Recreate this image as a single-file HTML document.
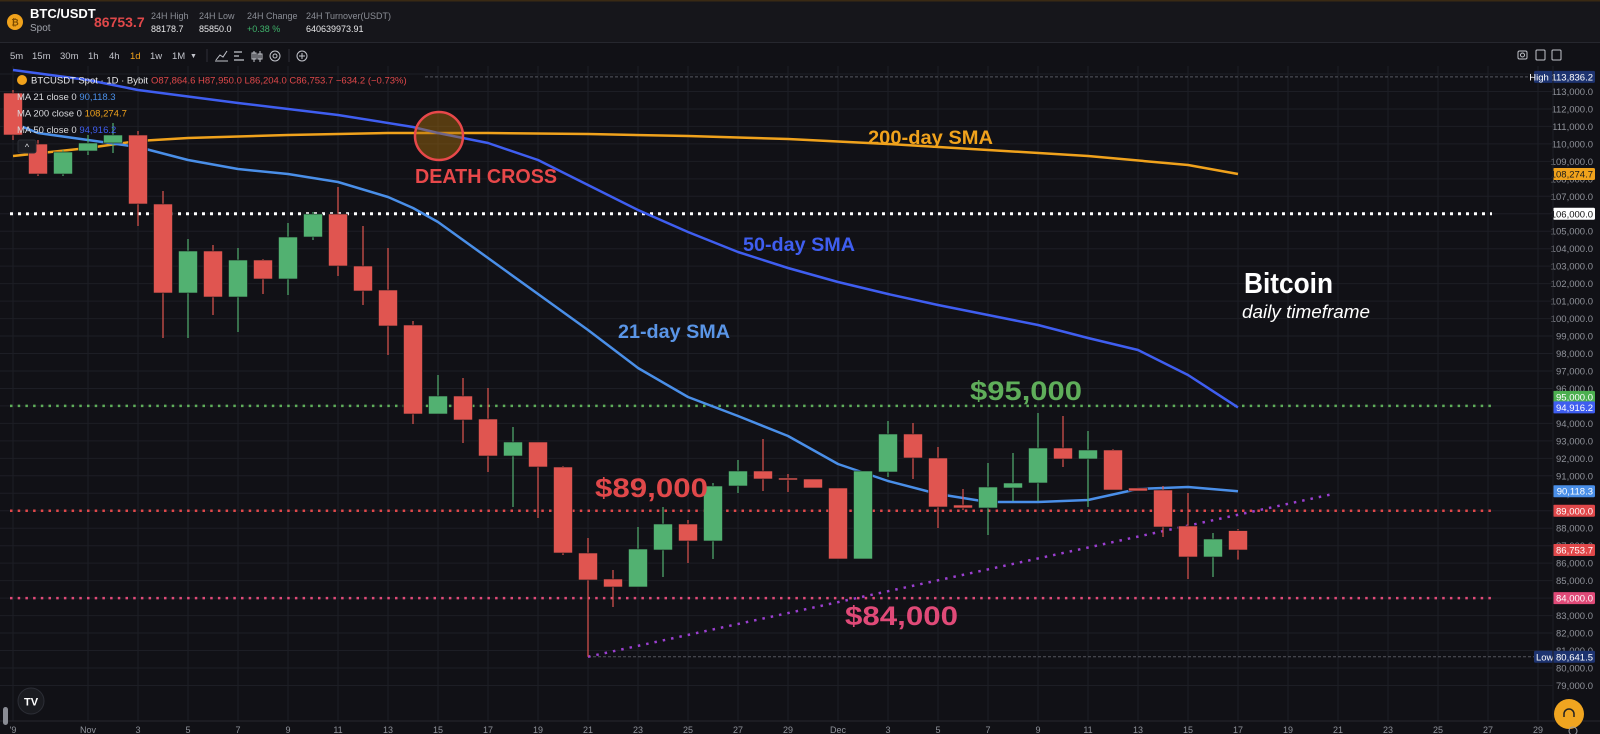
<!DOCTYPE html>
<html><head><meta charset="utf-8">
<style>
html,body{margin:0;padding:0;background:#111116;}
body{width:1600px;height:734px;overflow:hidden;font-family:"Liberation Sans",sans-serif;}
svg{display:block}
</style></head>
<body>
<svg id="chart" width="1600" height="734" viewBox="0 0 1600 734" xmlns="http://www.w3.org/2000/svg" font-family="Liberation Sans, sans-serif">
  <rect x="0" y="0" width="1600" height="734" fill="#111116"/>
  <rect x="0" y="0" width="1600" height="42" fill="#16161b"/>
  <rect x="0" y="0" width="1600" height="1.5" fill="#3a2a14"/>
  <line x1="0" y1="42.5" x2="1600" y2="42.5" stroke="#26272e"/>
  <g id="grid"></g>
  <g id="hlines"></g>
  <g id="mas"></g>
  <g id="candles"></g>
  <g id="axis"></g>
  <g id="xaxis"></g>

  <!-- header -->
  <g>
    <circle cx="15" cy="22" r="8" fill="#f0a21c"/>
    <text x="15" y="25.5" font-size="9" font-weight="bold" fill="#7a4a00" text-anchor="middle">₿</text>
    <text x="30" y="18" font-size="13" font-weight="bold" fill="#ffffff">BTC/USDT</text>
    <text x="30" y="31" font-size="10" fill="#a0a3ab">Spot</text>
    <text x="94" y="27" font-size="14" font-weight="bold" fill="#e0484a">86753.7</text>
    <text x="151" y="19" font-size="9" fill="#8b8e96">24H High</text>
    <text x="151" y="32" font-size="9" fill="#e8e8ea">88178.7</text>
    <text x="199" y="19" font-size="9" fill="#8b8e96">24H Low</text>
    <text x="199" y="32" font-size="9" fill="#e8e8ea">85850.0</text>
    <text x="247" y="19" font-size="9" fill="#8b8e96">24H Change</text>
    <text x="247" y="32" font-size="9" fill="#3fb36b">+0.38 %</text>
    <text x="306" y="19" font-size="9" fill="#8b8e96">24H Turnover(USDT)</text>
    <text x="306" y="32" font-size="9" fill="#e8e8ea">640639973.91</text>
  </g>
  <g font-size="9.5" fill="#c3c5cc">
    <text x="10" y="59">5m</text>
    <text x="32" y="59">15m</text>
    <text x="60" y="59">30m</text>
    <text x="88" y="59">1h</text>
    <text x="109" y="59">4h</text>
    <text x="130" y="59" fill="#f0a21c">1d</text>
    <text x="150" y="59">1w</text>
    <text x="172" y="59">1M</text>
    <text x="190" y="58" font-size="7">▼</text>
    <line x1="207" y1="49" x2="207" y2="62" stroke="#2e3038"/>
    <path d="M216 60 L220 55 L223 57 L227 51 M215 61 H228" stroke="#c3c5cc" fill="none" stroke-width="1"/>
    <path d="M234 52 H242 M234 56 H239 M234 60 H244" stroke="#c3c5cc" stroke-width="1.2"/>
    <path d="M254 51 V62 M260 51 V62 M252 53 h4 v6 h-4z M258 54 h4 v5 h-4z" stroke="#c3c5cc" fill="none" stroke-width="1"/>
    <circle cx="275" cy="56" r="5" stroke="#c3c5cc" fill="none"/>
    <circle cx="275" cy="56" r="2" stroke="#c3c5cc" fill="none"/>
    <line x1="289" y1="49" x2="289" y2="62" stroke="#2e3038"/>
    <circle cx="302" cy="56" r="5" stroke="#c3c5cc" fill="none"/>
    <path d="M299 56 H305 M302 53 V59" stroke="#c3c5cc"/>
    <rect x="1518" y="51" width="9" height="8" rx="1.5" stroke="#c3c5cc" fill="none"/>
    <circle cx="1522.5" cy="55" r="2" stroke="#c3c5cc" fill="none"/>
    <rect x="1536" y="50" width="9" height="10" rx="1" stroke="#c3c5cc" fill="none"/>
    <rect x="1552" y="50" width="9" height="10" rx="1" stroke="#c3c5cc" fill="none"/>
  </g>

  <!-- legend -->
  <g font-size="9.5">
    <circle cx="22" cy="80" r="5" fill="#f0a21c"/>
    <text x="31" y="83.5" fill="#e8e8ea">BTCUSDT Spot · 1D · Bybit</text>
    <text x="151" y="83.5" fill="#e0484a">O87,864.6 H87,950.0 L86,204.0 C86,753.7 −634.2 (−0.73%)</text>
    <text x="17" y="100" fill="#d8d9dd">MA 21 close 0 <tspan fill="#4a8fe8">90,118.3</tspan></text>
    <text x="17" y="116.5" fill="#d8d9dd">MA 200 close 0 <tspan fill="#f0a21c">108,274.7</tspan></text>
    <text x="17" y="133" fill="#d8d9dd">MA 50 close 0 <tspan fill="#3f5ef0">94,916.2</tspan></text>
    <rect x="18" y="140" width="18" height="13" rx="2" fill="#1c1d23" stroke="#2c2e36"/>
    <text x="27" y="150" font-size="9" fill="#d8d9dd" text-anchor="middle">^</text>
  </g>

  <g id="annot">
    <circle cx="439" cy="136" r="24" fill="rgba(170,110,10,0.45)" stroke="#e8484a" stroke-width="2.5"/>
    <text x="415" y="183" font-size="20" font-weight="bold" fill="#e8484a" textLength="142" lengthAdjust="spacingAndGlyphs">DEATH CROSS</text>
    <text x="868" y="144" font-size="19" font-weight="bold" fill="#f0a21c" textLength="125" lengthAdjust="spacingAndGlyphs">200-day SMA</text>
    <text x="743" y="251" font-size="19" font-weight="bold" fill="#3f5ef0" textLength="112" lengthAdjust="spacingAndGlyphs">50-day SMA</text>
    <text x="618" y="338" font-size="19" font-weight="bold" fill="#5a95e6" textLength="112" lengthAdjust="spacingAndGlyphs">21-day SMA</text>
    <text x="1244" y="293" font-size="29" font-weight="bold" fill="#ffffff" textLength="89" lengthAdjust="spacingAndGlyphs">Bitcoin</text>
    <text x="1242" y="318" font-size="18" font-style="italic" fill="#ffffff" textLength="128" lengthAdjust="spacingAndGlyphs">daily timeframe</text>
    <text x="970" y="400" font-size="27" font-weight="bold" fill="#5fae5a" textLength="112" lengthAdjust="spacingAndGlyphs">$95,000</text>
    <text x="595" y="497" font-size="27" font-weight="bold" fill="#e0484a" textLength="113" lengthAdjust="spacingAndGlyphs">$89,000</text>
    <text x="845" y="625" font-size="27" font-weight="bold" fill="#e04a78" textLength="113" lengthAdjust="spacingAndGlyphs">$84,000</text>
  </g>

  <g>
    <circle cx="31" cy="701" r="13" fill="#1a1b20" stroke="#2c2e36"/>
    <text x="31" y="705.5" font-size="11" font-weight="bold" fill="#ffffff" text-anchor="middle">TV</text>
    <rect x="3" y="707" width="5" height="18" rx="2.5" fill="#8a8c94"/>
    <circle cx="1569" cy="714" r="15" fill="#f0a520"/>
    <path d="M1564 717 v-3 a5 5 0 0 1 10 0 v3" stroke="#222" stroke-width="1.5" fill="none"/>
    <circle cx="1573" cy="731" r="4" stroke="#9a9ca4" fill="none"/>
  </g>
</svg>
<script>
// ---- data ----
const dayIdx = [-3,-2,-1,0,1,2,3,4,5,6,7,8,9,10,11,12,13,14,15,16,17,18,19,20,21,22,23,24,25,26,27,28,29,30,31,32,33,34,35,36,37,38,39,40,41,42,43,44,45,46];
const opens  = [112912,109993,108276,109593,110050,110508,106559,101464,103869,101235,103353,102266,104670,105986,103010,101636,99633,94538,95569,94252,92134,92936,91505,86582,85094,84636,86754,88242,87269,90417,91276,90875,90818,90303,86239,91218,93394,92020,89330,89158,90303,90589,92592,91963,92478,90303,90188,88128,86353,87864.8];
const highs  = [113084,110222,109650,110508,111195,110737,107303,104555,104212,104040,103411,105471,106101,107532,105300,104040,99862,96771,96599,96027,93794,92936,91562,87441,85609,88070,89215,88471,90589,91905,93107,91104,90818,90303,91276,94138,94023,92649,90245,91734,92306,94596,94424,93565,92535,90303,90417,90016,87727,87950];
const lows   = [110222,108162,108162,109364,109478,105300,98889,98889,100205,99232,101407,101350,104498,102438,100778,97916,93966,94538,92878,91218,89215,88585,86468,80641.5,83491,84636,85208,86010,86239,90016,90131,90074,90303,86239,86239,90932,90818,88013,89043,87612,89559,89559,91505,89215,90188,90131,87498,85094,85208,86204];
const closes = [110508,108276,109535,110050,110508,106559,101464,103869,101235,103353,102266,104670,105986,103010,101579,99576,94538,95569,94195,92134,92936,91505,86582,85037,84636,86811,88242,87269,90417,91276,90818,90761,90303,86239,91276,93394,92020,89215,89158,90360,90589,92592,91963,92478,90188,90131,88070,86353,87383,86753.7];

const ma200Days = [-3,0,2,4,8,12,16,20,24,28,32,36,40,44,46];
const ma200Vals = [109306,109764,110165,110337,110508,110623,110623,110566,110451,110279,109993,109650,109306,108791,108274.7];
const ma50Days = [-3,0,2,6,10,13,14,16,18,20,22,24,26,28,30,32,34,36,38,40,42,44,46];
const ma50Vals = [114229,113657,113084,112340,111653,110966,110623,110050,109077,107646,106215,104956,103811,102895,102094,101407,100778,100205,99633,98889,98202,96771,94916.2];
const ma21Days = [-3,-2,0,2,4,6,8,10,12,13,14,16,18,20,22,24,26,28,30,32,34,36,38,40,42,44,46];
const ma21Vals = [111195,110623,110222,109821,109077,108562,108276,107818,106959,106330,105528,103468,101407,99347,97171,95511,94424,93279,91676,90703,89959,89501,89501,89616,90245,90360,90118.3];

const levelVals = [106000,95000,89000,84000];
const trendDays = [20,49.8];
const trendVals = [80641.5,89959];

const priceTicks = [114000,113000,112000,111000,110000,109000,108000,107000,106000,105000,104000,103000,102000,101000,100000,99000,98000,97000,96000,95000,94000,93000,92000,91000,90000,89000,88000,87000,86000,85000,84000,83000,82000,81000,80000,79000];
const dateLabels = ["'9","Nov","3","5","7","9","11","13","15","17","19","21","23","25","27","29","Dec","3","5","7","9","11","13","15","17","19","21","23","25","27","29"];
const dateLabelDays = [-3,0,2,4,6,8,10,12,14,16,18,20,22,24,26,28,30,32,34,36,38,40,42,44,46,48,50,52,54,56,58];
const tagVals = [113836.2,108274.7,106000,95000,94916.2,90118.3,89000,86753.7,84000,80641.5];
const tagText = ["High  113,836.2","108,274.7","106,000.0","95,000.0","94,916.2","90,118.3","89,000.0","86,753.7","84,000.0","Low  80,641.5"];

// ---- scales ----
const NS="http://www.w3.org/2000/svg";
function y(p){return 74+(114000-p)*0.01747;}
function x(i){return 88+25*i;}
const PLOT_R=1553;
function mk(tag,attrs,parent){const e=document.createElementNS(NS,tag);for(const k in attrs)e.setAttribute(k,attrs[k]);parent.appendChild(e);return e;}
const fmt=v=>v.toLocaleString('en-US',{minimumFractionDigits:1,maximumFractionDigits:1});

// grid
const grid=document.getElementById('grid');
priceTicks.forEach(p=>{const l=mk('line',{x1:0,x2:PLOT_R,y1:y(p),y2:y(p),stroke:'#1d1e25','stroke-width':1},grid);

});
dateLabelDays.forEach(d=>{const l=mk('line',{x1:x(d),x2:x(d),y1:66,y2:721,stroke:'#1d1e25','stroke-width':1},grid);

});

// level lines
const hl=document.getElementById('hlines');
const lvlColors=['#ffffff','#5fae5a','#e0484a','#e04a78'];
const lvlNames=['level-106000-line','level-95000-line','level-89000-line','level-84000-line'];
levelVals.forEach((v,i)=>{const l=mk('line',{x1:10,x2:1492,y1:y(v),y2:y(v),stroke:lvlColors[i],'stroke-width':i==0?3:2.5,'stroke-dasharray':i==0?'3 5':'2.5 5.2'},hl);

});
// high/low dashed
const hd=mk('line',{x1:425,x2:1535,y1:y(113836.2),y2:y(113836.2),stroke:'#55575f','stroke-width':1,'stroke-dasharray':'3 2'},hl);


const ld=mk('line',{x1:x(20),x2:1535,y1:y(80641.5),y2:y(80641.5),stroke:'#55575f','stroke-width':1,'stroke-dasharray':'3 2'},hl);


// trendline
const tl=mk('line',{x1:x(trendDays[0]),y1:y(trendVals[0]),x2:x(trendDays[1]),y2:y(trendVals[1]),stroke:'#9b3fd0','stroke-width':2.5,'stroke-dasharray':'2.5 6'},hl);



// MAs
const mas=document.getElementById('mas');
function path(days,vals){return days.map((d,i)=>(i?'L':'M')+x(d).toFixed(1)+' '+y(vals[i]).toFixed(1)).join(' ');}
const p200=mk('path',{d:path(ma200Days,ma200Vals),stroke:'#f0a21c','stroke-width':2.5,fill:'none','stroke-linejoin':'round'},mas);


const p50=mk('path',{d:path(ma50Days,ma50Vals),stroke:'#3f5ef0','stroke-width':2.5,fill:'none','stroke-linejoin':'round'},mas);


const p21=mk('path',{d:path(ma21Days,ma21Vals),stroke:'#4a8fe8','stroke-width':2.5,fill:'none','stroke-linejoin':'round'},mas);



// candles
const cg=document.getElementById('candles');
dayIdx.forEach((d,i)=>{
  const up=closes[i]>=opens[i];const col=up?'#52b171':'#e05550';
  const g=mk('g',{},cg);
  
  
  mk('line',{x1:x(d),x2:x(d),y1:y(highs[i]),y2:y(lows[i]),stroke:col,'stroke-width':1.2},g);
  const top=y(Math.max(opens[i],closes[i])),bot=y(Math.min(opens[i],closes[i]));
  mk('rect',{x:x(d)-9.5,y:top,width:19,height:Math.max(1.5,bot-top),fill:col,stroke:'#15161a','stroke-width':0.6},g);
});

// price axis
const ax=document.getElementById('axis');
priceTicks.forEach(p=>{const t=mk('text',{x:1593,y:y(p)+3.5,'font-size':9.5,fill:'#8f929a','text-anchor':'end'},ax);t.textContent=fmt(p);

});
const tagFill=['#1d3370','#f0a21c','#ffffff','#4caf50','#3f5ef0','#4a8fe8','#e0484a','#e0484a','#e04a78','#1d3370'];
const tagTxt=['#ffffff','#1a1a1a','#111111','#ffffff','#ffffff','#ffffff','#ffffff','#ffffff','#ffffff','#ffffff'];
const tagNudge=[0,0,0,-9,0,0,0,0,0,0];
tagVals.forEach((v,i)=>{
  const wide=tagText[i].startsWith('High')||tagText[i].startsWith('Low');
  const x0=wide?1534:1553, w=wide?61:42, cy=y(v)+tagNudge[i];
  const g=mk('g',{},ax);
  
  
  mk('rect',{x:x0,y:cy-6,width:w,height:12,rx:1.5,fill:tagFill[i]},g);
  const t=mk('text',{x:1593,y:cy+3.5,'font-size':9.5,fill:tagTxt[i],'text-anchor':'end'},g);t.textContent=tagText[i];
});

// time axis
const xa=document.getElementById('xaxis');
mk('line',{x1:0,x2:1600,y1:721,y2:721,stroke:'#26272e'},xa);
mk('line',{x1:PLOT_R,x2:PLOT_R,y1:66,y2:721,stroke:'#1d1e25'},xa);
dateLabels.forEach((s,i)=>{const t=mk('text',{x:x(dateLabelDays[i]),y:733,'font-size':9,fill:'#8f929a','text-anchor':'middle'},xa);t.textContent=s;

});
</script>
</body></html>
